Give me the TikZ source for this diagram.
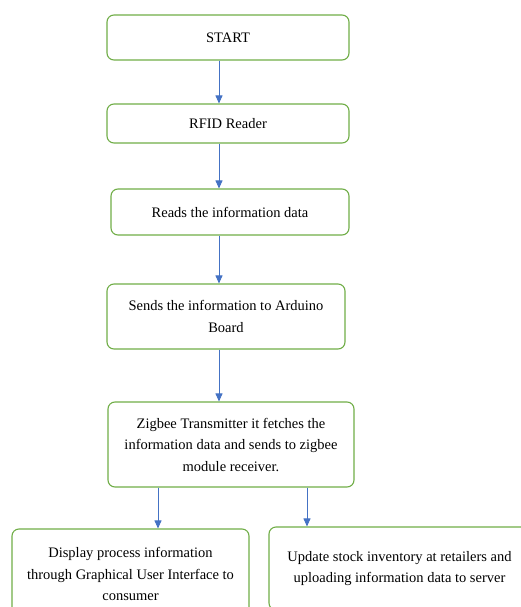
\documentclass[tikz,border=0pt]{standalone}
\usepackage{fontspec}
\setmainfont{Liberation Serif}
\usetikzlibrary{arrows.meta}
\definecolor{boxgreen}{RGB}{112,173,71}
\definecolor{arrowblue}{RGB}{68,114,196}
\begin{document}
\begin{tikzpicture}[x=1pt,y=-1pt,>={Triangle[length=8pt,width=7pt]},
	box/.style={draw=boxgreen,line width=1.1pt,rounded corners=7pt,align=center,inner sep=0pt,
		font=\fontsize{14.5}{21.5}\selectfont},
	link/.style={->,draw=arrowblue,line width=0.9pt,fill=arrowblue}]
	\useasboundingbox (0,0) rectangle (521,607);
	\node[box,minimum width=242,minimum height=45] (start) at (228,37.5) {START};
	\node[box,minimum width=242,minimum height=39] (rfid) at (228,123.5) {RFID Reader};
	\node[box,minimum width=238,minimum height=46] (reads) at (230,212) {Reads the information data};
	\node[box,minimum width=238,minimum height=65] (sends) at (226,316.5) {Sends the information to Arduino\\Board};
	\node[box,minimum width=246,minimum height=85] (zigbee) at (231,444.5) {Zigbee Transmitter it fetches the\\information data and sends to zigbee\\module receiver.};
	\node[box,minimum width=237,minimum height=90] (display) at (130.5,574) {Display process information\\through Graphical User Interface to\\consumer};
	\node[box,minimum width=261,minimum height=83] (update) at (399.5,568.5) {Update stock inventory at retailers and\\uploading information data to server};
	% arrow columns
	\coordinate (c) at (219,0);
	\coordinate (cl) at (158,0);
	\coordinate (cr) at (307,0);
	\draw[link] (start.south -| c) -- (rfid.north -| c);
	\draw[link] (rfid.south -| c) -- (reads.north -| c);
	\draw[link] (reads.south -| c) -- (sends.north -| c);
	\draw[link] (sends.south -| c) -- (zigbee.north -| c);
	\draw[link] (zigbee.south -| cl) -- (display.north -| cl);
	\draw[link] (zigbee.south -| cr) -- (update.north -| cr);
\end{tikzpicture}
\end{document}
